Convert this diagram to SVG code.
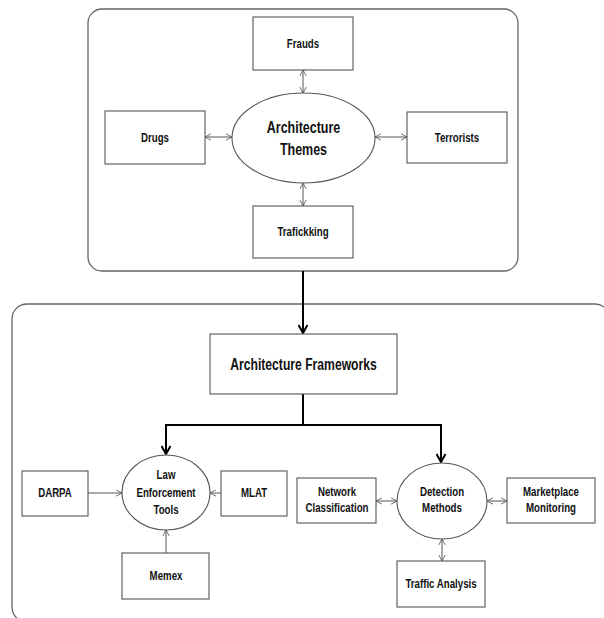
<svg xmlns="http://www.w3.org/2000/svg" width="604" height="618" viewBox="0 0 604 618">
<defs>
<marker id="ah" viewBox="0 0 10 10" refX="9.5" refY="5" markerWidth="7" markerHeight="8" markerUnits="userSpaceOnUse" orient="auto-start-reverse"><path d="M1,0.5 L9.5,5 L1,9.5" fill="none" stroke="#555" stroke-width="1.2"/></marker>
<marker id="ahb" viewBox="0 0 10 10" refX="9" refY="5" markerWidth="10" markerHeight="11" markerUnits="userSpaceOnUse" orient="auto"><path d="M1,0.5 L9,5 L1,9.5" fill="none" stroke="#000" stroke-width="2"/></marker>
</defs>
<style>
.cont{fill:none;stroke:#666;stroke-width:1.3}
.box{fill:#fff;stroke:#555;stroke-width:1.1}
.ell{fill:#fff;stroke:#555;stroke-width:1.1}
text{font-family:"Liberation Sans",Arial,sans-serif;font-weight:bold;font-size:13px;fill:#111;text-anchor:middle}
.big{font-size:16px}
.thin{fill:none;stroke:#555;stroke-width:1}
.thick{fill:none;stroke:#000;stroke-width:2}
</style>
<rect x="0" y="0" width="604" height="618" fill="#fff"/>
<g id="top-container"><rect class="cont" x="88" y="9" width="430" height="262" rx="14"/></g>
<g id="bottom-container"><rect class="cont" x="12" y="304" width="598" height="318" rx="15"/></g>
<g id="connectors">
<line class="thin" x1="303" y1="70" x2="303" y2="93" marker-start="url(#ah)" marker-end="url(#ah)"/>
<line class="thin" x1="205" y1="137" x2="232" y2="137" marker-start="url(#ah)" marker-end="url(#ah)"/>
<line class="thin" x1="375" y1="137" x2="407" y2="137" marker-start="url(#ah)" marker-end="url(#ah)"/>
<line class="thin" x1="303" y1="183" x2="303" y2="206" marker-start="url(#ah)" marker-end="url(#ah)"/>
<line class="thick" x1="303" y1="271" x2="303" y2="333" marker-end="url(#ahb)"/>
<polyline class="thick" points="303,394 303,425"/>
<polyline class="thick" points="165,425 441,425 441,462" marker-end="url(#ahb)"/>
<line class="thick" x1="166" y1="424" x2="166" y2="454" marker-end="url(#ahb)"/>
<line class="thin" x1="88" y1="493" x2="122" y2="493" marker-end="url(#ah)"/>
<line class="thin" x1="221" y1="493" x2="210" y2="493" marker-end="url(#ah)"/>
<line class="thin" x1="166" y1="553" x2="166" y2="530" marker-end="url(#ah)"/>
<line class="thin" x1="376" y1="501" x2="397" y2="501" marker-start="url(#ah)" marker-end="url(#ah)"/>
<line class="thin" x1="487" y1="501" x2="507" y2="501" marker-start="url(#ah)" marker-end="url(#ah)"/>
<line class="thin" x1="442" y1="539" x2="442" y2="561" marker-start="url(#ah)" marker-end="url(#ah)"/>
</g>
<g id="frauds"><rect class="box" x="253" y="17" width="100" height="53"/><text transform="translate(303,48) scale(0.745,1)">Frauds</text></g>
<g id="drugs"><rect class="box" x="105" y="111" width="100" height="53"/><text transform="translate(155,142) scale(0.745,1)">Drugs</text></g>
<g id="terrorists"><rect class="box" x="407" y="112" width="100" height="51"/><text transform="translate(457,142) scale(0.745,1)">Terrorists</text></g>
<g id="trafickking"><rect class="box" x="253" y="206" width="100" height="52"/><text transform="translate(303,236) scale(0.745,1)">Trafickking</text></g>
<g id="architecture-themes"><ellipse class="ell" cx="303.5" cy="138" rx="71.5" ry="45"/><text class="big" transform="translate(303.5,133) scale(0.78,1)">Architecture</text><text class="big" transform="translate(303.5,155) scale(0.78,1)">Themes</text></g>
<g id="architecture-frameworks"><rect class="box" x="210" y="334" width="187" height="60"/><text class="big" transform="translate(303.5,370) scale(0.76,1)">Architecture Frameworks</text></g>
<g id="law-enforcement-tools"><ellipse class="ell" cx="166" cy="492.5" rx="44" ry="37.5"/><text transform="translate(166,479) scale(0.745,1)">Law</text><text transform="translate(166,497) scale(0.745,1)">Enforcement</text><text transform="translate(166,514) scale(0.745,1)">Tools</text></g>
<g id="darpa"><rect class="box" x="22" y="471" width="66" height="45"/><text transform="translate(55,497) scale(0.745,1)">DARPA</text></g>
<g id="mlat"><rect class="box" x="221" y="471" width="66" height="45"/><text transform="translate(254,497) scale(0.745,1)">MLAT</text></g>
<g id="memex"><rect class="box" x="122" y="553" width="87" height="46"/><text transform="translate(166,580) scale(0.745,1)">Memex</text></g>
<g id="detection-methods"><ellipse class="ell" cx="442" cy="501" rx="45" ry="38"/><text transform="translate(442,496) scale(0.745,1)">Detection</text><text transform="translate(442,512) scale(0.745,1)">Methods</text></g>
<g id="network-classification"><rect class="box" x="297" y="478" width="79" height="45"/><text transform="translate(337,496) scale(0.745,1)">Network</text><text transform="translate(337,512) scale(0.745,1)">Classification</text></g>
<g id="marketplace-monitoring"><rect class="box" x="507" y="478" width="88" height="45"/><text transform="translate(551,496) scale(0.745,1)">Marketplace</text><text transform="translate(551,512) scale(0.745,1)">Monitoring</text></g>
<g id="traffic-analysis"><rect class="box" x="397" y="561" width="88" height="46"/><text transform="translate(441,588) scale(0.745,1)">Traffic Analysis</text></g>
</svg>
